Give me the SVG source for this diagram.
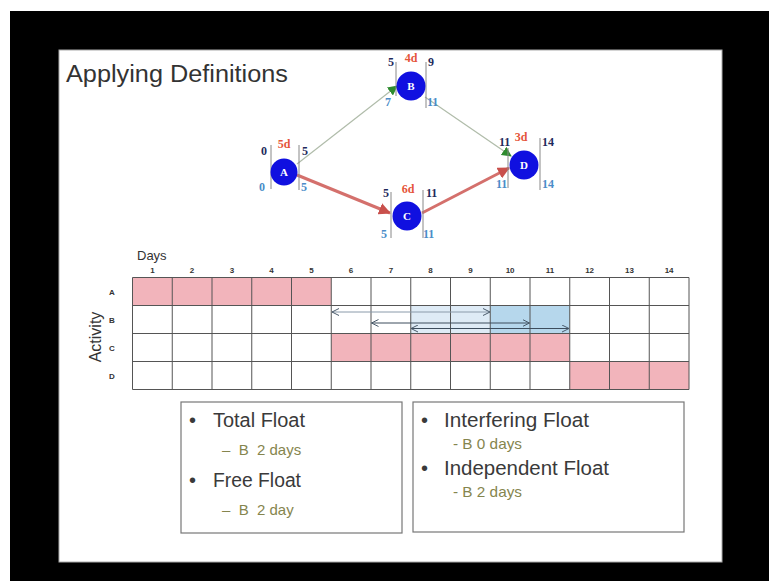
<svg xmlns="http://www.w3.org/2000/svg" width="769" height="581" viewBox="0 0 769 581">
<style>
.num{font-family:"Liberation Serif",serif;font-weight:bold;font-size:12px}
.es{fill:#1f2a5c}
.ls{fill:#4a8cc8}
.dur{fill:#e5553b}
.bar{stroke:#888;stroke-width:1}
.nodec{fill:#1010e0}
.nl{font-family:"Liberation Serif",serif;font-weight:bold;font-size:11px;fill:#fff;text-anchor:middle}
.small{font-family:"Liberation Sans",sans-serif;font-weight:bold;font-size:8px;fill:#333;text-anchor:middle}
.grid{stroke:#555;stroke-width:1;fill:none}
.pink{fill:#f2b4bb}
.main{font-family:"Liberation Sans",sans-serif;font-size:20px;fill:#3a3a3a}
.sub{font-family:"Liberation Sans",sans-serif;font-size:15px;fill:#85854e}
.box{fill:#fff;stroke:#777;stroke-width:1.2}
</style>
<defs>
<marker id="gh" markerUnits="userSpaceOnUse" markerWidth="10" markerHeight="10" refX="9" refY="5" orient="auto"><path d="M0,0 L10,5 L0,10 Z" fill="#2e8b2e"/></marker>
<marker id="rh" markerUnits="userSpaceOnUse" markerWidth="12" markerHeight="12" refX="11" refY="6" orient="auto"><path d="M0,0 L12,6 L0,12 Z" fill="#c9504c"/></marker>
<marker id="oe" markerUnits="userSpaceOnUse" markerWidth="8" markerHeight="8" refX="7" refY="4" orient="auto"><path d="M0,0.5 L7,4 L0,7.5" fill="none" stroke="#4a5a6a" stroke-width="1"/></marker>
<marker id="os" markerUnits="userSpaceOnUse" markerWidth="8" markerHeight="8" refX="1" refY="4" orient="auto"><path d="M8,0.5 L1,4 L8,7.5" fill="none" stroke="#4a5a6a" stroke-width="1"/></marker>
</defs>
<rect x="0" y="0" width="769" height="581" fill="#fff"/>
<rect x="10" y="11" width="759" height="570" fill="#000"/>
<rect x="59" y="50" width="663" height="512" fill="#fff" stroke="#aaa" stroke-width="1"/>
<text x="66" y="82" font-family="Liberation Sans, sans-serif" font-size="23" fill="#333" textLength="222" lengthAdjust="spacingAndGlyphs">Applying Definitions</text>

<g id="connectors">
<line x1="297" y1="164" x2="397" y2="86" stroke="#b0bcaa" stroke-width="1.2" marker-end="url(#gh)"/>
<line x1="425" y1="97" x2="511" y2="156" stroke="#b0bcaa" stroke-width="1.2" marker-end="url(#gh)"/>
<line x1="297" y1="175" x2="390" y2="213" stroke="#d4706c" stroke-width="3" marker-end="url(#rh)"/>
<line x1="422" y1="213" x2="509" y2="168" stroke="#d4706c" stroke-width="3" marker-end="url(#rh)"/>
</g>

<g id="node-A">
<line class="bar" x1="271" y1="145" x2="271" y2="189"/>
<line class="bar" x1="299" y1="145" x2="299" y2="190"/>
<circle class="nodec" cx="284" cy="172" r="13.5"/>
<text class="nl" x="284" y="176">A</text>
<text class="num es" x="261" y="155">0</text>
<text class="num dur" x="284" y="148" text-anchor="middle">5d</text>
<text class="num es" x="302" y="155">5</text>
<text class="num ls" x="259" y="191">0</text>
<text class="num ls" x="301" y="191">5</text>
</g>

<g id="node-B">
<line class="bar" x1="396" y1="62" x2="396" y2="96"/>
<line class="bar" x1="426" y1="62" x2="426" y2="108"/>
<circle class="nodec" cx="411" cy="86" r="14.5"/>
<text class="nl" x="411" y="90">B</text>
<text class="num es" x="388" y="66">5</text>
<text class="num dur" x="411" y="62" text-anchor="middle">4d</text>
<text class="num es" x="428" y="66">9</text>
<text class="num ls" x="385" y="106">7</text>
<text class="num ls" x="427" y="106">11</text>
</g>

<g id="node-C">
<line class="bar" x1="391" y1="192" x2="391" y2="238"/>
<line class="bar" x1="423" y1="190" x2="423" y2="238"/>
<circle class="nodec" cx="407" cy="216" r="14.5"/>
<text class="nl" x="407" y="220">C</text>
<text class="num es" x="383" y="197">5</text>
<text class="num dur" x="408" y="193" text-anchor="middle">6d</text>
<text class="num es" x="426" y="197">11</text>
<text class="num ls" x="381" y="238">5</text>
<text class="num ls" x="423" y="238">11</text>
</g>

<g id="node-D">
<line class="bar" x1="508" y1="148" x2="508" y2="188"/>
<line class="bar" x1="540" y1="138" x2="540" y2="190"/>
<circle class="nodec" cx="524" cy="165" r="14.5"/>
<text class="nl" x="524" y="169">D</text>
<text class="num es" x="499" y="146">11</text>
<text class="num dur" x="521" y="141" text-anchor="middle">3d</text>
<text class="num es" x="542" y="146">14</text>
<text class="num ls" x="496" y="188">11</text>
<text class="num ls" x="542" y="188">14</text>
</g>

<g id="gantt">
<text x="137" y="260" font-family="Liberation Sans, sans-serif" font-size="13" fill="#333">Days</text>
<text transform="translate(101,337) rotate(-90)" text-anchor="middle" font-family="Liberation Sans, sans-serif" font-size="16" fill="#333">Activity</text>
<g class="small">
<text x="152.4" y="273">1</text><text x="192.1" y="273">2</text><text x="231.9" y="273">3</text><text x="271.6" y="273">4</text><text x="311.4" y="273">5</text><text x="351.1" y="273">6</text><text x="390.9" y="273">7</text><text x="430.6" y="273">8</text><text x="470.4" y="273">9</text><text x="510.1" y="273">10</text><text x="549.9" y="273">11</text><text x="589.6" y="273">12</text><text x="629.4" y="273">13</text><text x="669.1" y="273">14</text>
<text x="112" y="294.5">A</text><text x="112" y="322.5">B</text><text x="112" y="350.5">C</text><text x="112" y="378.5">D</text>
</g>
<rect class="pink" x="132.5" y="277.5" width="198.75" height="28"/>
<rect class="pink" x="331.25" y="333.5" width="238.5" height="28"/>
<rect class="pink" x="569.75" y="361.5" width="119.25" height="28"/>
<rect x="410.75" y="305.5" width="79.5" height="28" fill="#deebf6"/>
<rect x="490.25" y="305.5" width="79.5" height="28" fill="#b6d7ec"/>
<path class="grid" d="M132.5,277.5H689M132.5,305.5H689M132.5,333.5H689M132.5,361.5H689M132.5,389.5H689
M132.5,277.5V389.5M172.25,277.5V389.5M212,277.5V389.5M251.75,277.5V389.5M291.5,277.5V389.5M331.25,277.5V389.5M371,277.5V389.5M410.75,277.5V389.5M450.5,277.5V389.5M490.25,277.5V389.5M530,277.5V389.5M569.75,277.5V389.5M609.5,277.5V389.5M649.25,277.5V389.5M689,277.5V389.5"/>
<line x1="332" y1="312" x2="490" y2="312" stroke="#8a9aaa" stroke-width="1" marker-start="url(#os)" marker-end="url(#oe)"/>
<line x1="371.5" y1="323" x2="529.5" y2="323" stroke="#3d4d5d" stroke-width="1" marker-start="url(#os)" marker-end="url(#oe)"/>
<line x1="411" y1="328.5" x2="569" y2="328.5" stroke="#3d4d5d" stroke-width="1" marker-start="url(#os)" marker-end="url(#oe)"/>
</g>

<g id="box-left">
<rect class="box" x="181" y="402" width="221" height="131"/>
<text class="main" x="189" y="427">•</text>
<text class="main" x="213" y="427" textLength="92" lengthAdjust="spacingAndGlyphs">Total Float</text>
<text class="sub" x="222" y="455" xml:space="preserve">–  B  2 days</text>
<text class="main" x="189" y="487">•</text>
<text class="main" x="213" y="487" textLength="88" lengthAdjust="spacingAndGlyphs">Free Float</text>
<text class="sub" x="222" y="515" xml:space="preserve">–  B  2 day</text>
</g>

<g id="box-right">
<rect class="box" x="413" y="402" width="271" height="130"/>
<text class="main" x="421" y="427">•</text>
<text class="main" x="444" y="427" textLength="145" lengthAdjust="spacingAndGlyphs">Interfering Float</text>
<text class="sub" x="453" y="449" textLength="69" lengthAdjust="spacingAndGlyphs">- B 0 days</text>
<text class="main" x="421" y="475">•</text>
<text class="main" x="444" y="475" textLength="165" lengthAdjust="spacingAndGlyphs">Independent Float</text>
<text class="sub" x="453" y="497" textLength="69" lengthAdjust="spacingAndGlyphs">- B 2 days</text>
</g>
</svg>
